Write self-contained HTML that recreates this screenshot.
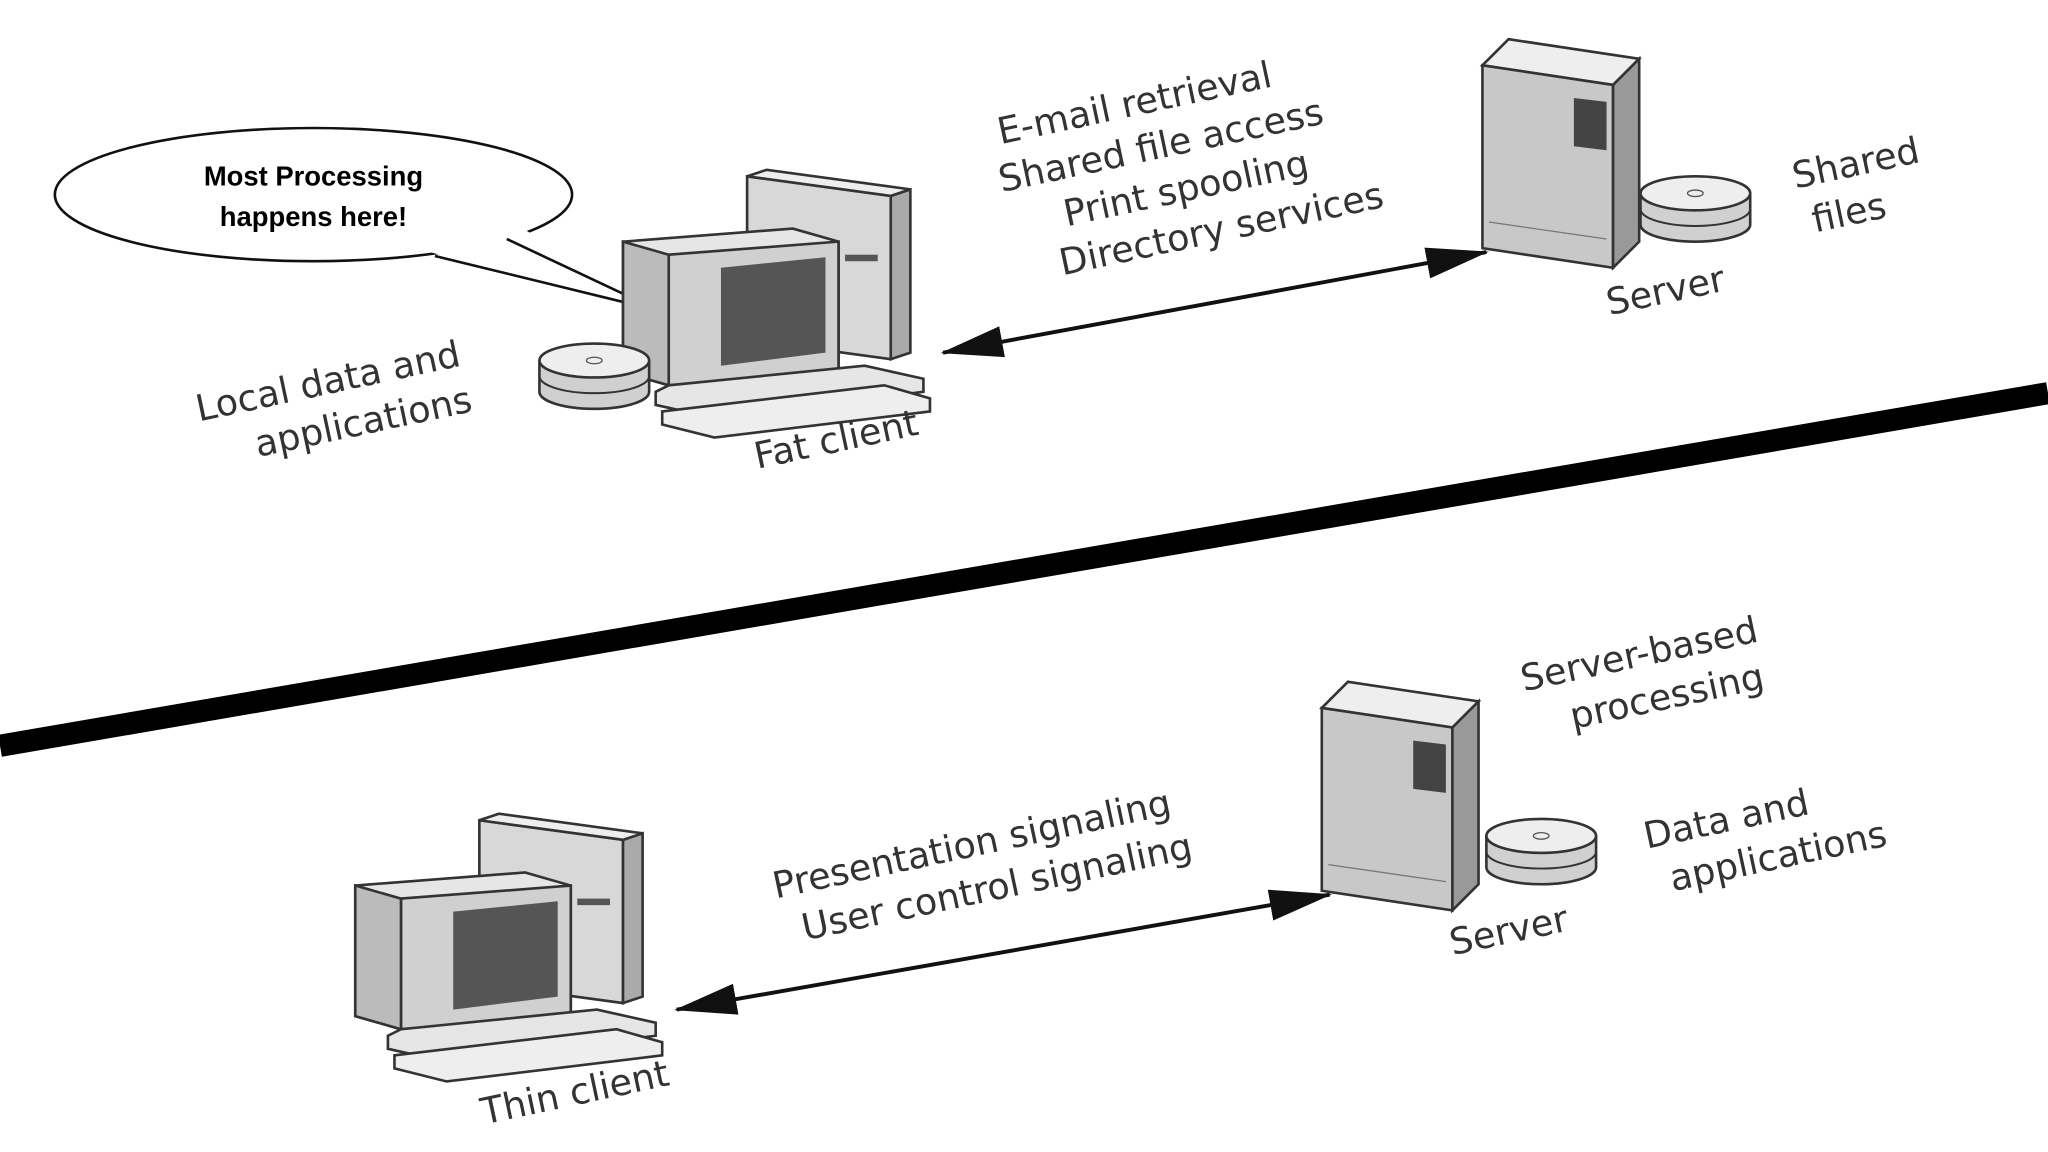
<!DOCTYPE html>
<html><head><meta charset="utf-8"><style>
html,body{margin:0;padding:0;background:#fff;}
svg{display:block;}
text{font-family:"DejaVu Sans","Liberation Sans",sans-serif;fill:#333;}
text.b{font-family:"Liberation Sans",sans-serif;fill:#000;}
</style></head><body>
<svg width="2048" height="1152" viewBox="0 0 1568 882" preserveAspectRatio="none" xmlns="http://www.w3.org/2000/svg">
<defs>
<marker id="ahs" markerWidth="48" markerHeight="24" refX="46" refY="12" orient="auto-start-reverse" markerUnits="userSpaceOnUse" viewBox="0 0 48 24">
<path d="M0,0 L48,12 L0,24 z" fill="#111"/></marker>
<g id="comp">
<polygon points="95,0 205,15 205,140 95,125" fill="#d8d8d8" stroke="#333" stroke-width="2"/>
<polygon points="205,15 220,10 220,135 205,140" fill="#aaa" stroke="#333" stroke-width="2"/>
<polygon points="95,0 110,-5 220,10 205,15" fill="#eee" stroke="#333" stroke-width="2"/>
<rect x="170" y="60" width="25" height="5" fill="#555"/>
<polygon points="0,50 130,40 165,50 165,150 35,160 0,150" fill="#e6e6e6" stroke="#333" stroke-width="2"/>
<polygon points="35,60 165,50 165,150 35,160" fill="#d0d0d0" stroke="#333" stroke-width="2"/>
<polygon points="0,50 35,60 35,160 0,150" fill="#bbb" stroke="#333" stroke-width="2"/>
<polygon points="75,70 155,62 155,135 75,145" fill="#555"/>
<polygon points="25,165 35,160 185,145 230,155 230,165 70,185 25,175" fill="#e6e6e6" stroke="#333" stroke-width="2"/>
<polygon points="30,180 200,160 235,170 235,180 70,200 30,190" fill="#eee" stroke="#333" stroke-width="2"/>
</g>
<g id="server">
<polygon points="0,20 20,0 120,15 100,35" fill="#eee" stroke="#333" stroke-width="2"/>
<polygon points="0,20 100,35 100,175 0,160" fill="#c8c8c8" stroke="#333" stroke-width="2"/>
<polygon points="100,35 120,15 120,155 100,175" fill="#999" stroke="#333" stroke-width="2"/>
<polygon points="70,45 95,48 95,85 70,82" fill="#444"/>
<line x1="5" y1="140" x2="95" y2="153" stroke="#777"/>
</g>
<g id="disk">
<path d="M-42,-12 L-42,12 A42,13 0 0 0 42,12 L42,-12" fill="#d0d0d0" stroke="#333" stroke-width="2"/>
<path d="M-42,0 A42,13 0 0 0 42,0" fill="none" stroke="#333" stroke-width="1.5"/>
<ellipse cx="0" cy="-12" rx="42" ry="13" fill="#eee" stroke="#333" stroke-width="2"/>
<ellipse cx="0" cy="-12" rx="6" ry="2.5" fill="none" stroke="#555"/>
</g>
</defs>

<ellipse cx="240" cy="149" rx="198" ry="51" fill="#fff" stroke="#111" stroke-width="2"/>
<polygon points="392,170 505,238 325,192 330,180" fill="#fff"/>
<polyline points="388,183 505,238 333,196" fill="none" stroke="#111" stroke-width="2"/>
<text class="b" x="240" y="142" font-size="21" font-weight="bold" text-anchor="middle">Most Processing</text>
<text class="b" x="240" y="173" font-size="21" font-weight="bold" text-anchor="middle">happens here!</text>

<use href="#comp" x="477" y="135"/>
<use href="#disk" x="455" y="288"/>
<g transform="rotate(-12 260 310)" font-size="28" text-anchor="middle">
<text x="255" y="300">Local data and</text>
<text x="275" y="336">applications</text></g>
<text x="640" y="346" font-size="28" text-anchor="middle" transform="rotate(-12 640 336)">Fat client</text>

<g transform="rotate(-12 905 130)" font-size="28" text-anchor="middle">
<text x="880" y="82">E-mail retrieval</text>
<text x="893" y="118">Shared file access</text>
<text x="905" y="154">Print spooling</text>
<text x="925" y="190">Directory services</text></g>

<line x1="722" y1="270" x2="1138" y2="193" stroke="#111" stroke-width="3" marker-end="url(#ahs)" marker-start="url(#ahs)"/>

<use href="#server" x="1135" y="30"/>
<use href="#disk" x="1298" y="160"/>
<g transform="rotate(-12 1420 145)" font-size="28" text-anchor="middle">
<text x="1425" y="135">Shared</text><text x="1412" y="171">files</text></g>
<text x="1275" y="232" font-size="28" text-anchor="middle" transform="rotate(-12 1275 222)">Server</text>

<line x1="0" y1="571" x2="1568" y2="301" stroke="#000" stroke-width="17"/>

<use href="#server" x="1012" y="522"/>
<use href="#disk" x="1180" y="652"/>
<g transform="rotate(-12 1258 515)" font-size="28" text-anchor="middle">
<text x="1258" y="510">Server-based</text><text x="1272" y="546">processing</text></g>
<g transform="rotate(-12 1355 640)" font-size="28" text-anchor="middle">
<text x="1325" y="630">Data and</text><text x="1358" y="666">applications</text></g>
<text x="1155" y="722" font-size="28" text-anchor="middle" transform="rotate(-12 1155 712)">Server</text>

<use href="#comp" x="272" y="628"/>
<text x="440" y="846" font-size="28" text-anchor="middle" transform="rotate(-12 440 836)">Thin client</text>
<g transform="rotate(-12 750 665)" font-size="28" text-anchor="middle">
<text x="748" y="655">Presentation signaling</text>
<text x="760" y="691">User control signaling</text></g>

<line x1="518" y1="773" x2="1018" y2="685" stroke="#111" stroke-width="3" marker-end="url(#ahs)" marker-start="url(#ahs)"/>
</svg>
</body></html>
